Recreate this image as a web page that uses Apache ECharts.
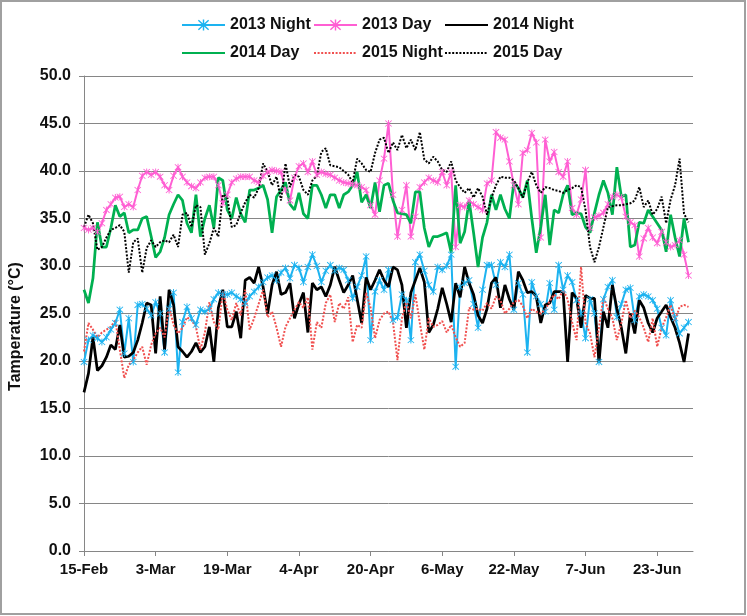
<!DOCTYPE html>
<html>
<head>
<meta charset="utf-8">
<script src="https://cdn.jsdelivr.net/npm/echarts@6/dist/echarts.min.js"></script>
<style>
  html, body { margin: 0; padding: 0; background: #fff; }
  #tempChart { width: 747px; height: 616px; }
</style>
</head>
<body>
<div id="tempChart"></div>
<script>
// day-by-day categories, 15-Feb .. 1-Jul (non-leap year)
const monthNames = ['Feb', 'Mar', 'Apr', 'May', 'Jun', 'Jul']
const monthDays = [28, 31, 30, 31, 30, 31]
const categories = []
let m = 0, dd = 15
while (categories.length < 137) {
  categories.push(dd + '-' + monthNames[m])
  dd++
  if (dd > monthDays[m]) { dd = 1; m++ }
}

// legend columns, as laid out in the original (two rows)
const legendColumns = [['2013 Night', '2014 Day'], ['2013 Day', '2015 Night'], ['2014 Night', '2015 Day']]
const legendLeft = [181, 313, 444]

const night2013 = [
  19.9, 22.2, 22.7, 22.4, 22, 22.5, 23.3, 24, 25.4, 20.8,
  24.5, 19.9, 25.9, 26, 25.5, 24.8, 26.2, 25, 20.9, 25.5,
  27.2, 18.8, 24.1, 25.7, 24.5, 23.8, 25.4, 25.2, 25.5, 26.5,
  27.2, 27, 27, 27.2, 26.8, 26.5, 26.1, 26.8, 27.3, 27.8,
  28.3, 28.8, 29, 28.5, 29.3, 29.8, 28.7, 30.1, 29.8, 28.3,
  29.9, 31.2, 30, 28.3, 29.5, 30.1, 29.5, 29.8, 29.6, 28.5,
  26.6, 27.8, 29, 31, 22.2, 27.3, 28.5, 27.5, 29.6, 24.3,
  24.6, 27, 26.4, 22.2, 30.4, 31.2, 29.5, 28, 27.3, 29.9,
  29.6, 30, 31.2, 19.4, 27.8, 28.2, 28.5, 26, 23.5, 27.5,
  30.1, 30.1, 28, 30.4, 29.9, 31.2, 25.4, 28.2, 27, 20.9,
  28.3, 26.8, 26, 25.2, 28.2, 25.4, 30.1, 27.5, 29, 28.3,
  26.4, 25, 22.4, 26.5, 25, 19.9, 26.5, 27.8, 28.5, 24.6,
  26, 27.5, 27.7, 24.3, 26.8, 27, 26.8, 26.4, 25.5, 23.5,
  22.7, 26.4, 24.5, 22.9, 23.5, 24.1
]
const day2013 = [
  34, 33.8, 34, 33.6, 34.5, 35.9, 36.5, 37.2, 37.3, 36.2,
  36.5, 36.2, 38, 39.5, 39.9, 39.6, 39.9, 39.4, 38.5, 38,
  39.5, 40.4, 39.4, 38.8, 38.4, 38.2, 38.8, 39.3, 39.4, 39.4,
  38.5, 36.6, 37.5, 38.8, 39.2, 39.4, 39.4, 39.4, 39, 38.8,
  39.5, 39.9, 40.1, 40, 39.9, 38, 36.9, 39.3, 40.5, 40.8,
  39.9, 41, 39.6, 39.9, 39.7, 39.6, 39.3, 39, 38.8, 38.7,
  38.6, 38.5, 38.3, 38, 36.4, 35.4, 39, 41.3, 45, 37.5,
  33.1, 35.9, 38.5, 33.1, 35.2, 38.3, 38.8, 39.3, 39, 38.8,
  39.9, 38.5, 39.9, 32, 36.4, 36.2, 36.9, 36.5, 36.2, 35.9,
  38.7, 39, 44.1, 43.5, 43.3, 41, 38.5, 36.5, 41.9, 42.2,
  44, 43, 33, 43.3, 41, 42, 39.9, 39.4, 41, 36.1,
  35.4, 37, 40.1, 34, 35.1, 35.3, 35.6, 36.5, 37.3, 37.5,
  37.2, 35.2, 34.6, 34.3, 31, 32.9, 34, 33, 32.4, 33.6,
  32.5, 32, 32.2, 32.7, 31.2, 29
]
const night2014 = [
  16.7, 18.7, 22.5, 19, 19.5, 20.4, 21.7, 21.2, 23.8, 20.4,
  20.5, 20.9, 22.2, 24, 26.1, 25.9, 20.8, 26.8, 21.2, 27.5,
  25.9, 21.5, 21, 20.4, 21, 21.9, 20.9, 21.5, 23.6, 19.9,
  25.6, 27.5, 23.6, 23.6, 25.2, 22.4, 28.5, 28.8, 28.2, 29.9,
  27.8, 25, 28, 29.4, 27, 27.2, 28.2, 24.5, 26, 27.2,
  23, 28.2, 27.5, 27.8, 26.8, 28, 29.9, 28.5, 27.2, 28,
  29, 26.5, 24, 28.8, 27.5, 28.5, 29.6, 28.5, 27.8, 29.9,
  29.6, 28, 23.5, 27.2, 28.5, 29.8, 28.3, 23, 23.8, 25.5,
  27.7, 26, 24.1, 28.2, 26.7, 29.9, 28.2, 27, 24.8, 24,
  25.5, 28.2, 28.8, 25.6, 28, 26.5, 25.4, 29.4, 28.5, 27.2,
  27.3, 26.8, 24, 25.9, 26.1, 27.3, 27.3, 27.3, 19.9, 27.2,
  26.6, 23.5, 26.9, 26.6, 26.6, 19.8, 25.2, 23.5, 28, 25.5,
  23.5, 20.8, 25, 22.9, 26.4, 25.6, 24, 23, 24.5, 25.2,
  25.9, 24.6, 23.5, 21.9, 19.9, 22.9
]
const day2014 = [
  27.5, 26.1, 28.7, 34.6, 32, 32, 34, 36.4, 35.2, 35.6,
  33.5, 33.8, 33.8, 35, 35.2, 33.1, 30.9, 31.5, 33, 35.4,
  36.5, 37.5, 36.9, 34.5, 33.5, 37.5, 33.1, 35, 36.4, 34,
  39.3, 39, 35.9, 35, 37.2, 35.5, 34.6, 38, 38, 38.2,
  38.5, 37, 33.5, 37.3, 38, 38.8, 36.5, 35.9, 37.7, 35.5,
  35, 38.5, 38.5, 37.5, 36.1, 37.5, 37.5, 36.1, 37.5, 37.8,
  38.5, 39.9, 36.7, 37.5, 36.1, 38.8, 35.7, 38.5, 38.7, 36.9,
  35.6, 35.5, 35.4, 34.5, 37.8, 37.8, 34, 32, 33.1, 33.1,
  33.3, 33.5, 31.4, 38.5, 32.4, 33.6, 36.9, 33.5, 29.9, 33,
  34.6, 37.5, 35.9, 37.5, 36, 35, 38.8, 38.2, 37.2, 39,
  35, 31.4, 34.1, 37.5, 32.2, 35.9, 35.6, 37.5, 38.5, 35.4,
  35.6, 35.5, 34.1, 33.5, 35.6, 37.5, 39, 37.7, 35.4, 40.4,
  37.3, 37.5, 32, 32.2, 34.6, 34.5, 35.9, 35.2, 34.5, 33.8,
  31.5, 35.4, 33, 31, 35, 32.5
]
const night2015 = [
  21, 24, 23.3, 22.5, 23, 23.3, 23.6, 24.3, 21.2, 18.2,
  19.6, 20.1, 20.9, 21.5, 19.6, 21.7, 22.9, 23.5, 22.5, 25.7,
  23.8, 22.9, 23.5, 24.6, 24.3, 23.6, 21.2, 23, 26.2, 24.1,
  23.3, 27.3, 25.4, 24.3, 26.1, 24.8, 27.5, 23.3, 24.5, 26,
  27.5, 24.6, 25.2, 23.5, 21.5, 23.6, 24.5, 25.4, 26.2, 25.6,
  26.7, 21.2, 24.1, 23.5, 26.1, 27, 24.1, 26.1, 25.5, 26.7,
  22, 23.8, 23.5, 27.2, 25.6, 22.4, 24.3, 25, 25.2, 24.1,
  20.1, 24.5, 26.2, 24.5, 27, 24, 21.2, 24.5, 23.6, 23.8,
  24.2, 23, 23.8, 22.5, 21.5, 21.9, 25.6, 25.4, 25.5, 25.3,
  26.1, 25.5, 26.8, 26.4, 25, 25.5, 26.2, 26.4, 25.8, 24.5,
  25.5, 25.2, 25, 25.4, 26.3, 27, 26.5, 27.5, 26.5, 24.1,
  22.2, 29.9, 24, 22.9, 20.4, 23.5, 26.7, 25.5, 24.5, 22.2,
  24, 26.4, 24.5, 25.3, 24.6, 23.5, 22, 24.5, 21.5, 23.5,
  24.6, 25.9, 24.2, 25.7, 25.9, 25.7
]
const day2015 = [
  34.1, 35.4, 34.5, 31.7, 32, 33, 33.8, 34, 34.3, 33.6,
  29.3, 32.5, 32.9, 29.3, 31.9, 32.7, 32, 32.5, 32.7, 32.5,
  33.3, 32, 35.4, 35.6, 34.1, 36.4, 36.2, 31.2, 32.4, 34,
  33.1, 37.5, 37.2, 34.1, 34.3, 35.6, 36.7, 37.5, 37.2, 38.2,
  40.8, 39.9, 38.5, 39.4, 36.9, 40.8, 38.3, 39.6, 39.4, 38,
  37.5, 39, 39.5, 42, 42.4, 40.6, 40.5, 40.4, 40, 39.6,
  38.8, 41.3, 40.8, 40.1, 39.9, 41.9, 43.3, 43.5, 41.9, 43,
  42.2, 43.8, 42.4, 43.3, 42.2, 44.1, 41.2, 40.8, 41.5, 41,
  40.1, 39.9, 41, 39, 38.3, 37.7, 38.2, 37.2, 38.2, 37.3,
  35.4, 37.2, 38.5, 39.4, 39.3, 39.3, 39, 38.2, 37.2, 38.8,
  39.9, 38.5, 37.7, 38.3, 38.2, 38, 37.9, 37.7, 38, 38.2,
  38.5, 38.3, 35.9, 32, 30.4, 32, 34.1, 36.2, 36.3, 36.4,
  36.4, 36.5, 36.6, 36.9, 38.3, 36.2, 36.9, 35.4, 36, 37.3,
  34.5, 37, 38.5, 41.3, 35.5, 34.6
]

// excel style "*" marker
const starMarker = 'path://M4.4,0L5.6,0L5.6,10L4.4,10Z M0.4,1.2L1.2,0.4L9.6,8.8L8.8,9.6Z M8.8,0.4L9.6,1.2L1.2,9.6L0.4,8.8Z'
const plainSeries = ['2014 Night', '2014 Day', '2015 Night', '2015 Day']

const axisGrey = '#868686'
const baseFont = "'Liberation Sans', Arial, sans-serif"

const chart = echarts.init(document.getElementById('tempChart'))

// legend entry: lines without markers get their legend symbol hidden
const legendItem = name => plainSeries.indexOf(name) >= 0
  ? { name: name, itemStyle: { opacity: 0 } }
  : { name: name }

const legends = legendColumns.map((names, i) => ({
  left: legendLeft[i],
  top: 17,
  padding: 0,
  orient: 'vertical',
  itemWidth: 43,
  itemHeight: 14,
  itemGap: 12,
  textStyle: { fontFamily: baseFont, fontSize: 16, fontWeight: 'bold', color: '#111' },
  data: names.map(legendItem),
}))

const option = {
  animation: false,
  backgroundColor: '#fff',
  graphic: [{
    type: 'rect',
    shape: { x: 1, y: 1, width: 744, height: 613 },
    style: { fill: 'none', stroke: '#a0a0a0', lineWidth: 2 },
    silent: true,
  }],
  legend: legends,
  grid: { left: 83, top: 76, width: 610, height: 475 },
  xAxis: {
    type: 'category',
    data: categories,
    boundaryGap: false,
    axisLine: { lineStyle: { color: axisGrey, width: 1 } },
    axisTick: { show: true, interval: 15, length: 5, lineStyle: { color: axisGrey } },
    axisLabel: {
      interval: 15,
      margin: 11,
      color: '#111',
      fontFamily: baseFont,
      fontSize: 15,
      fontWeight: 'bold',
    },
    splitLine: { show: false },
  },
  yAxis: {
    type: 'value',
    min: 0,
    max: 50,
    interval: 5,
    name: 'Tamperature (\u00B0C)',
    nameLocation: 'middle',
    nameRotate: 90,
    nameGap: 60,
    nameTextStyle: {
      fontFamily: baseFont, fontSize: 16, fontWeight: 'bold', color: '#111',
      padding: [0, 26, 0, 0],
    },
    axisLine: { show: true, lineStyle: { color: axisGrey, width: 1 } },
    axisTick: { show: true, length: 5, lineStyle: { color: axisGrey } },
    axisLabel: {
      margin: 13,
      color: '#111',
      fontFamily: baseFont,
      fontSize: 16,
      fontWeight: 'bold',
      formatter: v => v.toFixed(1),
    },
    splitLine: { lineStyle: { color: axisGrey, width: 1 } },
  },
  series: [
    {
      name: '2013 Night', type: 'line', data: night2013,
      symbol: starMarker, symbolSize: 7, showSymbol: true, showAllSymbol: true,
      itemStyle: { color: '#1DB3F0' },
      lineStyle: { color: '#1DB3F0', width: 2 },
    },
    {
      name: '2013 Day', type: 'line', data: day2013,
      symbol: starMarker, symbolSize: 7, showSymbol: true, showAllSymbol: true,
      itemStyle: { color: '#FF5FD3' },
      lineStyle: { color: '#FF5FD3', width: 2 },
    },
    {
      name: '2014 Night', type: 'line', data: night2014, symbol: 'none',
      itemStyle: { color: '#000' },
      lineStyle: { color: '#000', width: 2.75 },
    },
    {
      name: '2014 Day', type: 'line', data: day2014, symbol: 'none',
      itemStyle: { color: '#00B050' },
      lineStyle: { color: '#00B050', width: 2.75 },
    },
    {
      name: '2015 Night', type: 'line', data: night2015, symbol: 'none',
      itemStyle: { color: '#F0504F' },
      lineStyle: { color: '#F0504F', width: 2, type: [2, 1.6] },
    },
    {
      name: '2015 Day', type: 'line', data: day2015, symbol: 'none',
      itemStyle: { color: '#000' },
      lineStyle: { color: '#000', width: 2, type: [2, 1.6] },
    },
  ],
}

chart.setOption(option)
</script>
</body>
</html>
